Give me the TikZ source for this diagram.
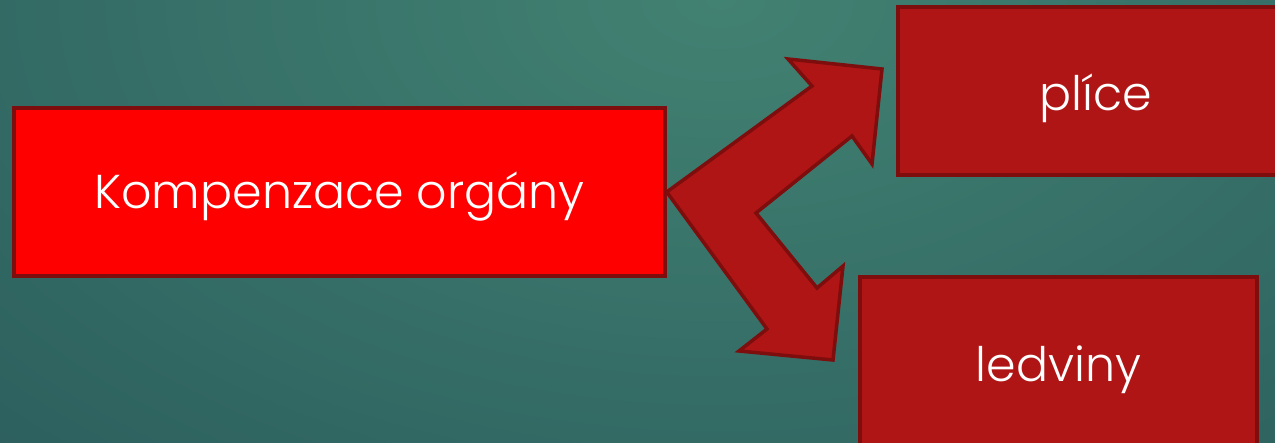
\documentclass[tikz,border=0pt]{standalone}
\usepackage{fontspec}
\setmainfont{Poppins Light}
\definecolor{bginner}{HTML}{428272}
\definecolor{bgouter}{HTML}{1C4650}
\definecolor{boxfill}{HTML}{B01515}
\definecolor{boxline}{HTML}{7E0D0D}
\definecolor{mainfill}{HTML}{FF0000}
\tikzset{
  organbox/.style={draw=boxline, line width=3.5pt, fill=boxfill, text=white,
    inner sep=0pt, font=\fontsize{47.5}{52}\selectfont},
  mainbox/.style={organbox, fill=mainfill},
  bigarrow/.style={draw=boxline, line width=3.5pt, fill=boxfill, line join=miter}
}
\begin{document}
\begin{tikzpicture}[x=1pt,y=-1pt]
\useasboundingbox (0,0) rectangle (1275,443);
\begin{scope}
\clip (0,0) rectangle (1275,443);
\shade[inner color=bginner, outer color=bgouter] (720,0) ellipse (1800 and 1100);
\end{scope}
\node[mainbox, minimum width=651pt, minimum height=168pt] (main) at (339.5,192) {\raisebox{-5pt}[\height][\depth]{Kompenzace orgány}};
\node[organbox, minimum width=396pt, minimum height=168pt] (plice) at (1096,91) {\raisebox{-7pt}[\height][\depth]{plíce}};
\node[organbox, minimum width=397pt, minimum height=168pt] (ledviny) at (1058.5,361) {\raisebox{-9pt}[\height][\depth]{ledviny}};
\coordinate (start) at (main.east);
\draw[bigarrow] (start) -- (812,86) -- (788,59) -- (882,69) -- (872,164) -- (852,136)
  -- (756,213) -- (817,288) -- (843,266) -- (833,360) -- (739,351) -- (767,329) -- cycle;
\end{tikzpicture}
\end{document}
